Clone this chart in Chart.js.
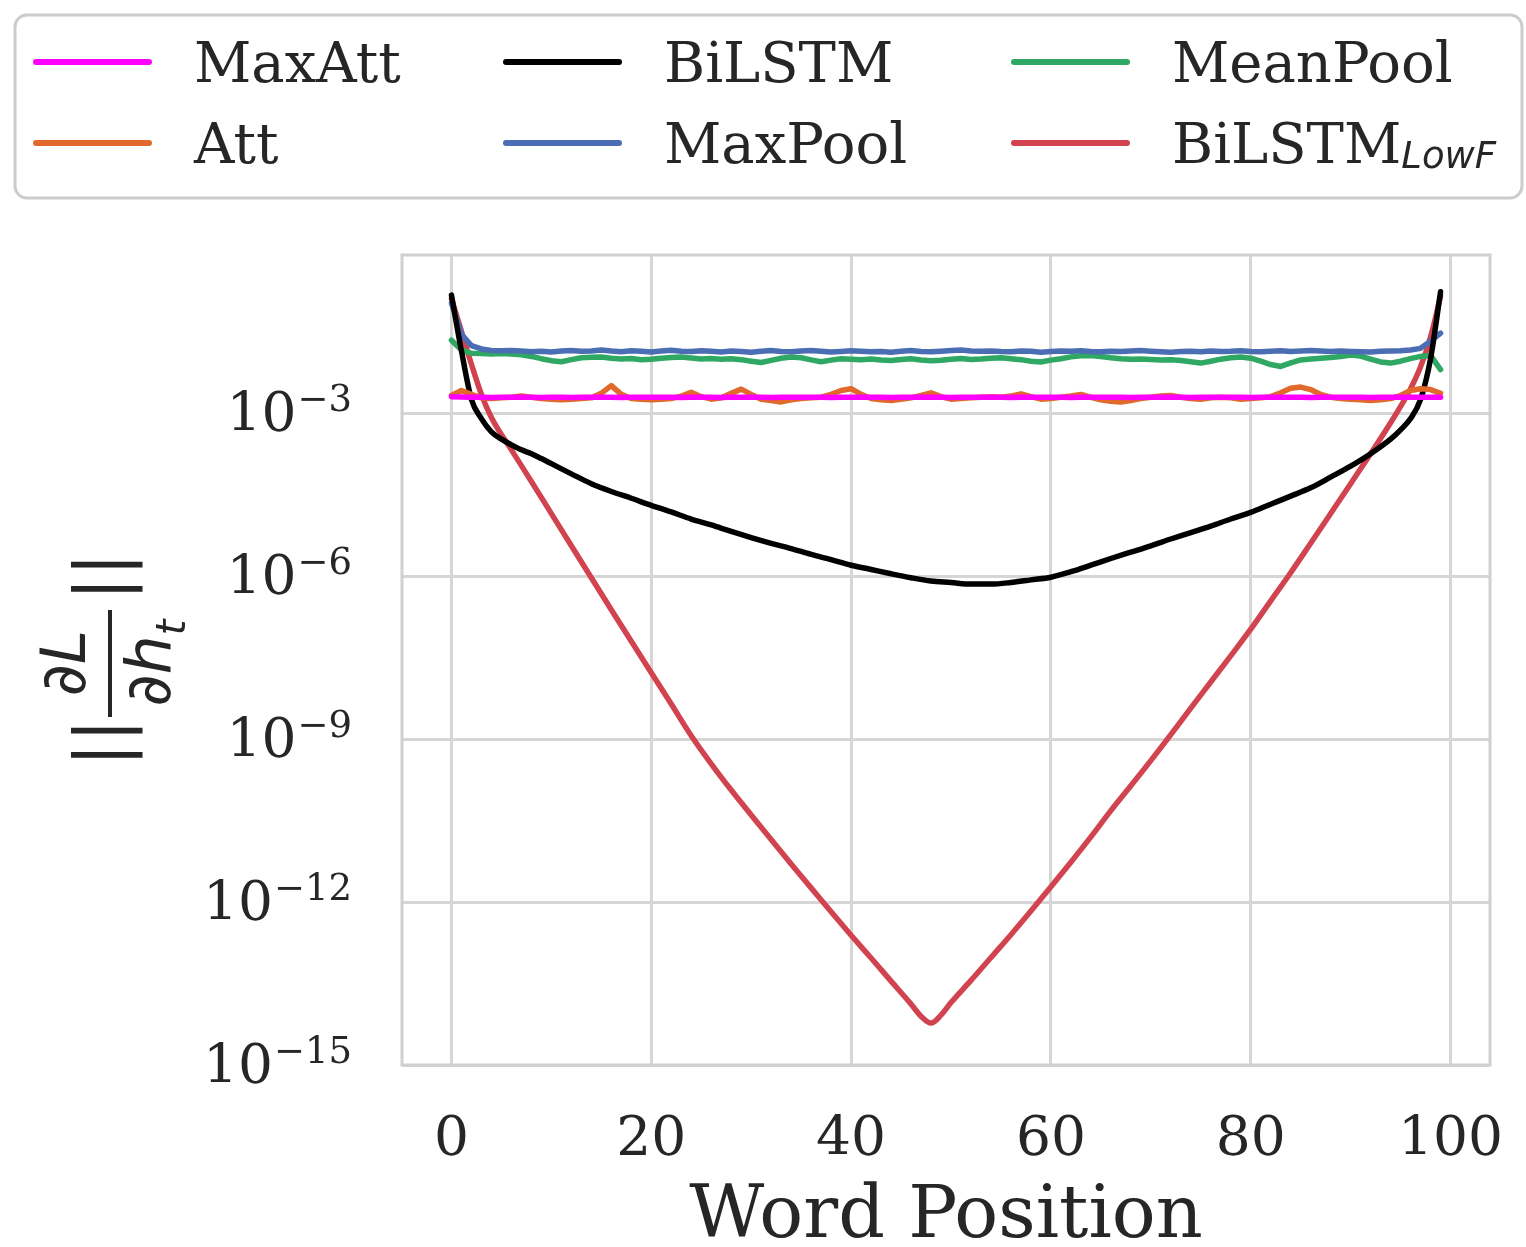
<!DOCTYPE html>
<html>
<head>
<meta charset="utf-8">
<script src="https://cdn.jsdelivr.net/npm/chart.js@4.4.0/dist/chart.umd.min.js"></script>
<style>
  html, body { margin: 0; padding: 0; background: #fff; }
  canvas { display: block; }
</style>
</head>
<body>
<canvas id="gradChart" width="1526" height="1247"></canvas>
<script>
// word positions shared by the noisy series
const wordPositions = [
  0, 1, 2, 3, 4, 5, 6, 7, 8, 9, 10, 11, 12, 13, 14, 15, 16, 17, 18, 19,
  20, 21, 22, 23, 24, 25, 26, 27, 28, 29, 30, 31, 32, 33, 34, 35, 36, 37, 38, 39,
  40, 41, 42, 43, 44, 45, 46, 47, 48, 49, 50, 51, 52, 53, 54, 55, 56, 57, 58, 59,
  60, 61, 62, 63, 64, 65, 66, 67, 68, 69, 70, 71, 72, 73, 74, 75, 76, 77, 78, 79,
  80, 81, 82, 83, 84, 85, 86, 87, 88, 89, 90, 91, 92, 93, 94, 95, 96, 97, 98, 99
];

const maxAttNorm = [
  2.00e-3, 1.97e-3, 1.95e-3, 1.95e-3, 1.94e-3, 1.95e-3, 1.95e-3, 1.96e-3, 1.95e-3, 1.94e-3,
  1.95e-3, 1.95e-3, 1.94e-3, 1.95e-3, 1.96e-3, 1.95e-3, 1.95e-3, 1.94e-3, 1.95e-3, 1.95e-3,
  1.95e-3, 1.96e-3, 1.95e-3, 1.94e-3, 1.95e-3, 1.95e-3, 1.95e-3, 1.94e-3, 1.95e-3, 1.96e-3,
  1.95e-3, 1.95e-3, 1.94e-3, 1.95e-3, 1.95e-3, 1.96e-3, 1.95e-3, 1.95e-3, 1.94e-3, 1.95e-3,
  1.95e-3, 1.95e-3, 1.96e-3, 1.95e-3, 1.94e-3, 1.95e-3, 1.95e-3, 1.95e-3, 1.96e-3, 1.95e-3,
  1.94e-3, 1.95e-3, 1.95e-3, 1.95e-3, 1.96e-3, 1.95e-3, 1.94e-3, 1.95e-3, 1.95e-3, 1.95e-3,
  1.96e-3, 1.95e-3, 1.94e-3, 1.95e-3, 1.95e-3, 1.95e-3, 1.96e-3, 1.95e-3, 1.94e-3, 1.95e-3,
  1.95e-3, 1.95e-3, 1.96e-3, 1.95e-3, 1.94e-3, 1.95e-3, 1.95e-3, 1.95e-3, 1.96e-3, 1.95e-3,
  1.94e-3, 1.95e-3, 1.95e-3, 1.95e-3, 1.96e-3, 1.95e-3, 1.94e-3, 1.95e-3, 1.95e-3, 1.95e-3,
  1.96e-3, 1.95e-3, 1.94e-3, 1.95e-3, 1.95e-3, 1.95e-3, 1.96e-3, 1.95e-3, 1.95e-3, 1.95e-3
];

const attNorm = [
  2.10e-3, 2.60e-3, 2.20e-3, 1.90e-3, 1.85e-3, 1.90e-3, 1.95e-3, 2.05e-3, 1.95e-3, 1.85e-3,
  1.80e-3, 1.75e-3, 1.80e-3, 1.85e-3, 1.90e-3, 2.30e-3, 3.20e-3, 2.20e-3, 1.85e-3, 1.80e-3,
  1.75e-3, 1.80e-3, 1.85e-3, 2.05e-3, 2.40e-3, 2.00e-3, 1.80e-3, 1.90e-3, 2.30e-3, 2.75e-3,
  2.20e-3, 1.80e-3, 1.70e-3, 1.60e-3, 1.75e-3, 1.85e-3, 1.90e-3, 1.95e-3, 2.20e-3, 2.60e-3,
  2.80e-3, 2.20e-3, 1.85e-3, 1.75e-3, 1.70e-3, 1.80e-3, 1.90e-3, 2.10e-3, 2.35e-3, 2.00e-3,
  1.80e-3, 1.85e-3, 1.90e-3, 1.95e-3, 2.00e-3, 1.95e-3, 2.05e-3, 2.25e-3, 2.00e-3, 1.80e-3,
  1.85e-3, 1.95e-3, 2.05e-3, 2.20e-3, 1.95e-3, 1.75e-3, 1.65e-3, 1.60e-3, 1.70e-3, 1.85e-3,
  1.95e-3, 2.05e-3, 2.10e-3, 1.95e-3, 1.85e-3, 1.80e-3, 1.90e-3, 1.95e-3, 1.90e-3, 1.80e-3,
  1.85e-3, 1.90e-3, 2.00e-3, 2.35e-3, 2.85e-3, 3.00e-3, 2.70e-3, 2.20e-3, 1.95e-3, 1.85e-3,
  1.80e-3, 1.75e-3, 1.70e-3, 1.75e-3, 1.85e-3, 2.10e-3, 2.60e-3, 2.80e-3, 2.70e-3, 2.30e-3
];

const maxPoolNorm = [
  1.05e-1, 2.80e-2, 1.74e-2, 1.51e-2, 1.42e-2, 1.40e-2, 1.41e-2, 1.38e-2, 1.34e-2, 1.37e-2,
  1.33e-2, 1.38e-2, 1.42e-2, 1.37e-2, 1.39e-2, 1.44e-2, 1.38e-2, 1.34e-2, 1.40e-2, 1.37e-2,
  1.33e-2, 1.38e-2, 1.43e-2, 1.37e-2, 1.35e-2, 1.40e-2, 1.37e-2, 1.33e-2, 1.38e-2, 1.36e-2,
  1.32e-2, 1.37e-2, 1.41e-2, 1.36e-2, 1.34e-2, 1.38e-2, 1.42e-2, 1.37e-2, 1.33e-2, 1.36e-2,
  1.40e-2, 1.37e-2, 1.34e-2, 1.36e-2, 1.32e-2, 1.37e-2, 1.41e-2, 1.36e-2, 1.34e-2, 1.37e-2,
  1.41e-2, 1.44e-2, 1.39e-2, 1.37e-2, 1.38e-2, 1.35e-2, 1.34e-2, 1.38e-2, 1.37e-2, 1.32e-2,
  1.36e-2, 1.39e-2, 1.37e-2, 1.40e-2, 1.36e-2, 1.34e-2, 1.37e-2, 1.35e-2, 1.39e-2, 1.41e-2,
  1.37e-2, 1.34e-2, 1.31e-2, 1.36e-2, 1.37e-2, 1.34e-2, 1.39e-2, 1.36e-2, 1.37e-2, 1.40e-2,
  1.36e-2, 1.34e-2, 1.37e-2, 1.40e-2, 1.36e-2, 1.38e-2, 1.41e-2, 1.38e-2, 1.36e-2, 1.39e-2,
  1.36e-2, 1.34e-2, 1.33e-2, 1.37e-2, 1.38e-2, 1.40e-2, 1.45e-2, 1.55e-2, 2.09e-2, 2.95e-2
];

const meanPoolNorm = [
  2.19e-2, 1.45e-2, 1.26e-2, 1.24e-2, 1.22e-2, 1.25e-2, 1.22e-2, 1.18e-2, 1.10e-2, 1.00e-2,
  9.2e-3, 8.8e-3, 9.6e-3, 1.04e-2, 1.06e-2, 1.07e-2, 1.02e-2, 9.9e-3, 1.01e-2, 9.6e-3,
  9.8e-3, 1.02e-2, 1.05e-2, 1.07e-2, 1.03e-2, 9.9e-3, 1.01e-2, 9.8e-3, 1.00e-2, 9.6e-3,
  9.0e-3, 8.5e-3, 9.3e-3, 1.02e-2, 1.07e-2, 1.04e-2, 9.5e-3, 8.8e-3, 9.4e-3, 1.00e-2,
  9.8e-3, 9.6e-3, 9.9e-3, 9.5e-3, 9.3e-3, 9.7e-3, 1.00e-2, 9.5e-3, 9.2e-3, 9.4e-3,
  9.8e-3, 1.01e-2, 9.7e-3, 9.9e-3, 1.02e-2, 1.04e-2, 1.00e-2, 9.6e-3, 9.0e-3, 8.7e-3,
  9.4e-3, 1.00e-2, 1.08e-2, 1.13e-2, 1.15e-2, 1.10e-2, 1.04e-2, 1.00e-2, 9.8e-3, 9.9e-3,
  9.7e-3, 9.5e-3, 9.6e-3, 9.3e-3, 8.8e-3, 8.3e-3, 9.0e-3, 9.8e-3, 1.04e-2, 1.07e-2,
  1.02e-2, 9.0e-3, 7.8e-3, 7.2e-3, 8.4e-3, 9.5e-3, 9.9e-3, 1.02e-2, 1.05e-2, 1.10e-2,
  1.17e-2, 1.12e-2, 9.8e-3, 8.7e-3, 8.3e-3, 9.0e-3, 1.00e-2, 1.10e-2, 1.15e-2, 6.3e-3
];

// the two smooth BiLSTM curves, read at fewer positions
const lstmPositions = [
  0, 1, 2, 3, 4, 5, 6, 7, 8, 9, 10, 12, 14, 16, 18, 20, 22, 24, 26, 28, 30,
  32, 34, 36, 38, 40, 42, 44, 46, 48, 50, 52, 54, 56, 58, 60, 62, 64, 66, 68,
  70, 72, 74, 76, 78, 80, 82, 84, 86, 88, 90, 92, 94, 95, 96, 97, 98, 99
];
const lstmNorm = [
  1.48e-1, 1.40e-2, 1.78e-3, 7.9e-4, 4.5e-4, 3.3e-4, 2.6e-4, 2.1e-4, 1.78e-4, 1.45e-4, 1.17e-4,
  7.6e-5, 5.0e-5, 3.6e-5, 2.7e-5, 2.0e-5, 1.51e-5, 1.12e-5, 8.7e-6, 6.6e-6, 5.1e-6,
  4.0e-6, 3.2e-6, 2.5e-6, 2.0e-6, 1.58e-6, 1.32e-6, 1.10e-6, 9.3e-7, 8.1e-7, 7.6e-7,
  7.1e-7, 7.1e-7, 7.6e-7, 8.5e-7, 9.5e-7, 1.20e-6, 1.58e-6, 2.1e-6, 2.75e-6,
  3.6e-6, 4.8e-6, 6.3e-6, 8.3e-6, 1.12e-5, 1.48e-5, 2.1e-5, 2.95e-5, 4.2e-5, 6.6e-5,
  1.05e-4, 1.78e-4, 3.3e-4, 4.9e-4, 7.9e-4, 1.78e-3, 1.00e-2, 1.70e-1
];

const lowFPositions = [
  0, 1, 2, 3, 4, 6, 8, 10, 12, 14, 16, 18, 20, 22, 24, 26, 28, 30, 32, 34, 36, 38,
  40, 42, 44, 46, 47, 48, 49, 50, 52, 54, 56, 58, 60, 62, 64, 66, 68, 70, 72, 74,
  76, 78, 80, 82, 84, 86, 88, 90, 92, 94, 95, 96, 97, 98, 99
];
const lowFNorm = [
  1.26e-1, 3.2e-2, 7.9e-3, 2.2e-3, 8.3e-4, 2.1e-4, 5.5e-5, 1.41e-5, 3.6e-6, 9.3e-7, 2.4e-7,
  6.3e-8, 1.66e-8, 4.4e-9, 1.15e-9, 3.5e-10, 1.15e-10, 4.0e-11, 1.41e-11, 5.0e-12, 1.82e-12, 6.6e-13,
  2.45e-13, 9.3e-14, 3.5e-14, 1.32e-14, 7.9e-15, 5.9e-15, 8.3e-15, 1.41e-14, 3.6e-14, 9.5e-14,
  2.5e-13, 6.8e-13, 1.9e-12, 5.4e-12, 1.58e-11, 4.8e-11, 1.38e-10, 4.0e-10, 1.2e-9, 3.7e-9,
  1.12e-8, 3.4e-8, 1.05e-7, 3.5e-7, 1.15e-6, 4.0e-6, 1.41e-5, 5.0e-5, 1.78e-4, 6.6e-4,
  1.32e-3, 2.8e-3, 7.1e-3, 2.5e-2, 1.41e-1
];

const xTickValues = [0, 20, 40, 60, 80, 100];
const yTickValues = [1e-15, 1e-12, 1e-9, 1e-6, 1e-3];

const seriesLabels = ['MaxAtt', 'Att', 'BiLSTM', 'MaxPool', 'MeanPool', 'BiLSTM_LowF'];
const seriesColors = ['#ff00ff', '#e0692b', '#000000', '#4a6db4', '#2ea863', '#d1434f'];
const smoothSeries = ['BiLSTM', 'BiLSTM_LowF'];

const TEXT = '#262626';
const SERIF = '"DejaVu Serif", serif';
const SANS = '"DejaVu Sans", sans-serif';

const toPoints = (xs, ys) => xs.map((x, i) => ({ x: x, y: ys[i] }));

const seriesData = [
  toPoints(wordPositions, maxAttNorm),
  toPoints(wordPositions, attNorm),
  toPoints(lstmPositions, lstmNorm),
  toPoints(wordPositions, maxPoolNorm),
  toPoints(wordPositions, meanPoolNorm),
  toPoints(lowFPositions, lowFNorm)
];

const gradDecor = {
  id: 'gradDecor',
  beforeDatasetsDraw(chart) {
    const { ctx, chartArea: a } = chart;
    ctx.save();
    ctx.strokeStyle = '#d0d0d0';
    ctx.lineWidth = 3;
    ctx.strokeRect(a.left, a.top, a.right - a.left, a.bottom - a.top);
    ctx.restore();
  },
  afterDraw(chart) {
    const { ctx, scales } = chart;
    const xs = scales.x, ys = scales.y;
    ctx.save();
    ctx.fillStyle = TEXT;
    ctx.textBaseline = 'alphabetic';

    // x tick labels
    ctx.font = '55px ' + SERIF;
    ctx.textAlign = 'center';
    xs.ticks.forEach(t => ctx.fillText(String(t.value), xs.getPixelForValue(t.value), 1155));

    // y tick labels 10^-n
    ys.ticks.forEach(t => {
      const py = ys.getPixelForValue(t.value);
      const exp = '\u2212' + Math.abs(Math.round(Math.log10(t.value)));
      ctx.font = '37px ' + SERIF;
      ctx.textAlign = 'right';
      ctx.fillText(exp, 352, py - 2);
      const w = ctx.measureText(exp).width;
      ctx.font = '55px ' + SERIF;
      ctx.fillText('10', 352 - w - 1, py + 18);
    });

    // x axis title
    ctx.font = '73px ' + SERIF;
    ctx.textAlign = 'center';
    ctx.fillText('Word Position', (xs.left + xs.right) / 2, 1237);

    // y axis title ||dL/dh_t||
    ctx.save();
    ctx.translate(110, 660);
    ctx.rotate(-Math.PI / 2);
    ctx.textAlign = 'left';
    ctx.font = '72px ' + SANS;
    ctx.fillText('||', -107, 15);
    ctx.fillText('||', 59, 15);
    ctx.fillRect(-57, -2, 107, 4);
    ctx.font = 'italic 62px ' + SANS;
    ctx.textAlign = 'center';
    ctx.fillText('\u2202L', -3, -25);
    const wd = ctx.measureText('\u2202h').width;
    ctx.font = 'italic 40px ' + SANS;
    const wt = ctx.measureText('t').width;
    const start = -3 - (wd + wt) / 2;
    ctx.textAlign = 'left';
    ctx.font = 'italic 62px ' + SANS;
    ctx.fillText('\u2202h', start, 60);
    ctx.font = 'italic 40px ' + SANS;
    ctx.fillText('t', start + wd, 75);
    ctx.restore();

    // legend
    ctx.beginPath();
    ctx.roundRect(15, 15, 1507, 183, 12);
    ctx.fillStyle = '#ffffff';
    ctx.fill();
    ctx.strokeStyle = '#cccccc';
    ctx.lineWidth = 3;
    ctx.stroke();
    const colX = [34, 504, 1012];
    const rowY = [62, 143];
    chart.data.datasets.forEach((ds, i) => {
      const lx = colX[Math.floor(i / 2)];
      const ly = rowY[i % 2];
      ctx.strokeStyle = ds.borderColor;
      ctx.lineWidth = 6;
      ctx.lineCap = 'round';
      ctx.beginPath();
      ctx.moveTo(lx + 2, ly);
      ctx.lineTo(lx + 115, ly);
      ctx.stroke();
      const parts = ds.label.split('_');
      ctx.fillStyle = TEXT;
      ctx.textAlign = 'left';
      ctx.font = '56px ' + SERIF;
      ctx.fillText(parts[0], lx + 160, ly + 20);
      if (parts[1]) {
        const mw = ctx.measureText(parts[0]).width;
        ctx.font = 'italic 37px ' + SANS;
        ctx.fillText(parts[1], lx + 160 + mw, ly + 25);
      }
    });
    ctx.restore();
  }
};

new Chart(document.getElementById('gradChart'), {
  type: 'line',
  data: {
    datasets: seriesLabels.map((label, i) => ({
      label: label,
      data: seriesData[i],
      borderColor: seriesColors[i],
      backgroundColor: seriesColors[i],
      borderWidth: 5.5,
      pointRadius: 0,
      tension: 0,
      cubicInterpolationMode: smoothSeries.includes(label) ? 'monotone' : 'default',
      fill: false,
      borderJoinStyle: 'round',
      borderCapStyle: 'round'
    }))
  },
  options: {
    responsive: false,
    devicePixelRatio: 1,
    animation: false,
    layout: { padding: { left: 402, right: 36, top: 255, bottom: 182 } },
    plugins: { legend: { display: false }, tooltip: { enabled: false } },
    scales: {
      x: {
        type: 'linear',
        min: -4.95,
        max: 103.95,
        afterBuildTicks: s => { s.ticks = xTickValues.map(v => ({ value: v })); },
        ticks: { display: false },
        grid: { color: '#d6d6d6', lineWidth: 3, drawTicks: false },
        border: { display: false }
      },
      y: {
        type: 'logarithmic',
        min: 1e-15,
        max: 0.81,
        afterBuildTicks: s => { s.ticks = yTickValues.map(v => ({ value: v })); },
        ticks: { display: false },
        grid: { color: '#d6d6d6', lineWidth: 3, drawTicks: false },
        border: { display: false }
      }
    }
  },
  plugins: [gradDecor]
});
</script>
</body>
</html>
